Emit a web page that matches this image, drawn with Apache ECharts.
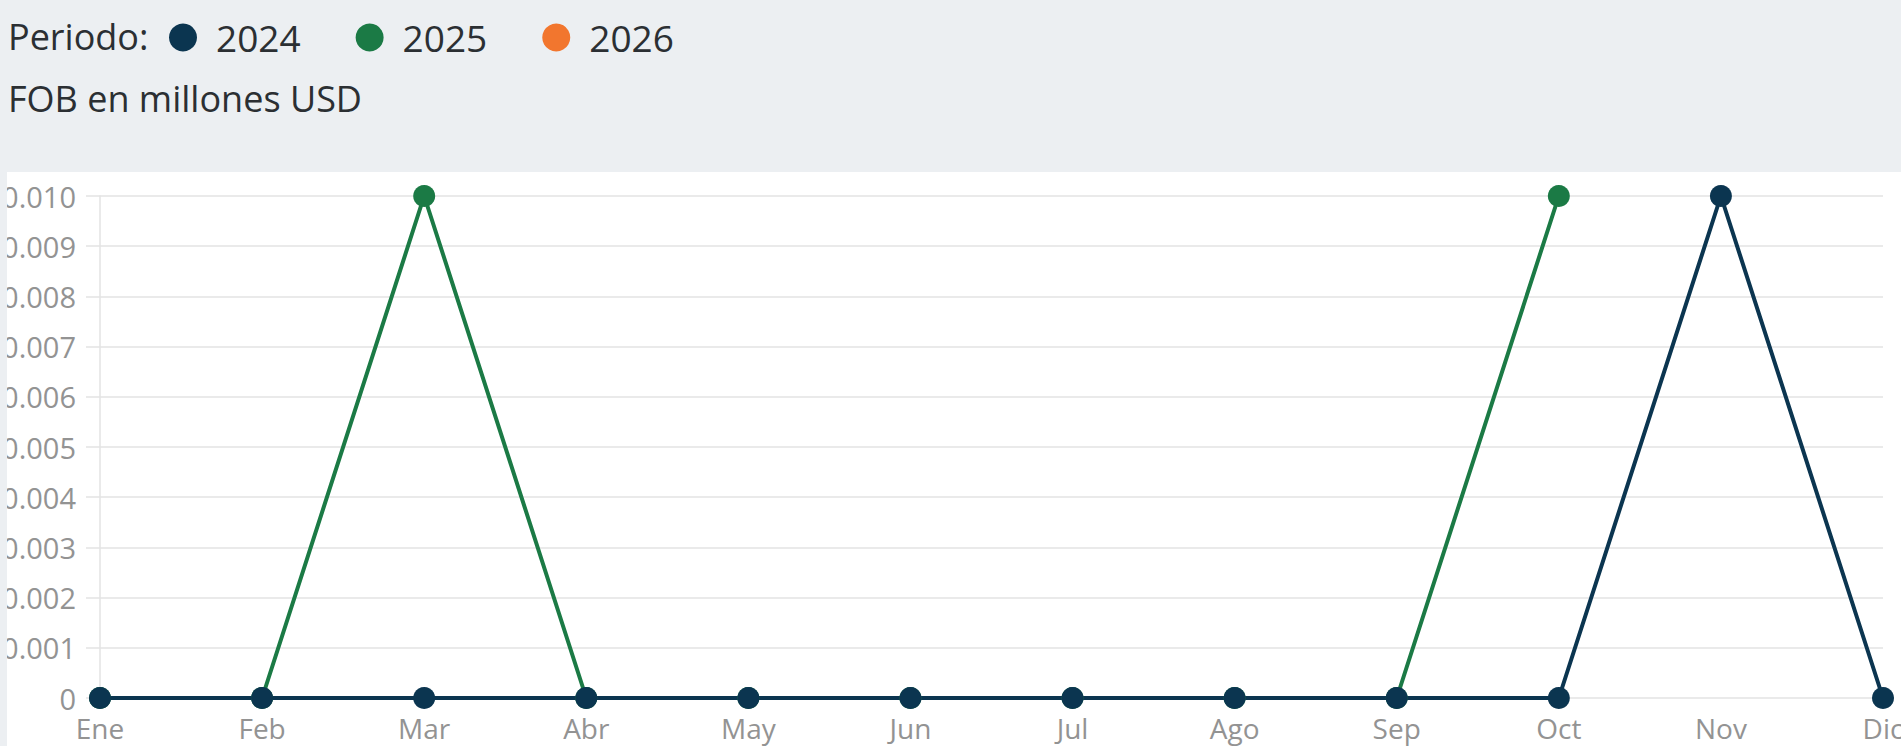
<!DOCTYPE html>
<html>
<head>
<meta charset="utf-8">
<script src="https://cdn.jsdelivr.net/npm/echarts@6/dist/echarts.min.js"></script>
<style>
html, body { margin: 0; padding: 0; width: 1901px; height: 746px; overflow: hidden; background: #eceff2; }
#wrap { position: absolute; left: 7px; top: 0; width: 1894px; height: 746px; overflow: hidden; }
#chart { position: absolute; left: -7px; top: 0; width: 1901px; height: 746px; }
</style>
</head>
<body>
<div id="wrap"><div id="chart"></div></div>
<script>
// meses
var meses = ['Ene','Feb','Mar','Abr','May','Jun','Jul','Ago','Sep','Oct','Nov','Dic'];

// FOB en millones USD
var datos2024 = [0, 0, 0, 0, 0, 0, 0, 0, 0, 0, 0.01, 0];
var datos2025 = [0, 0, 0.01, 0, 0, 0, 0, 0, 0, 0.01, null, null];
var datos2026 = [null, null, null, null, null, null, null, null, null, null, null, null];

var yTickLabels = ['0','0.001','0.002','0.003','0.004','0.005','0.006','0.007','0.008','0.009','0.010'];

var fuente = '"Open Sans", "Noto Sans", sans-serif';

var myChart = echarts.init(document.getElementById('chart'), null, { renderer: 'svg' });

var option = {
    backgroundColor: 'transparent',
    animation: false,
    graphic: [
        {
            type: 'rect',
            z: -10,
            silent: true,
            shape: { x: 7, y: 172, width: 1894, height: 574 },
            style: { fill: '#ffffff' }
        }
    ],
    title: [
        {
            text: 'Periodo:',
            left: 3,
            top: 9,
            textStyle: { fontFamily: fuente, fontSize: 36, fontWeight: 'normal', color: '#2b2f33', lineHeight: 44 }
        },
        {
            text: 'FOB en millones USD',
            left: 3,
            top: 71,
            textStyle: { fontFamily: fuente, fontSize: 36, fontWeight: 'normal', color: '#2b2f33', lineHeight: 44 }
        }
    ],
    legend: {
        data: ['2024', '2025', '2026'],
        left: 169,
        top: 19,
        padding: 0,
        icon: 'circle',
        itemWidth: 28,
        itemHeight: 28,
        itemGap: 55,
        selectedMode: false,
        textStyle: {
            fontFamily: fuente,
            fontSize: 37,
            color: '#2b2f33',
            lineHeight: 28,
            padding: [0, 0, 0, 14]
        }
    },
    grid: {
        left: 100,
        right: 18,
        top: 196,
        bottom: 48,
        outerBoundsMode: 'none'
    },
    xAxis: {
        type: 'category',
        boundaryGap: false,
        data: meses,
        axisLine: { show: false },
        axisTick: { show: false },
        splitLine: { show: false },
        axisLabel: {
            interval: 0,
            margin: 16,
            fontFamily: fuente,
            fontSize: 28,
            color: '#939393'
        }
    },
    yAxis: {
        type: 'value',
        min: 0,
        max: 0.01,
        interval: 0.001,
        axisLine: { show: true, lineStyle: { color: '#e3e3e3', width: 1.5 } },
        axisTick: { show: true, length: 14, lineStyle: { color: '#e3e3e3', width: 1.5 } },
        splitLine: { show: true, lineStyle: { color: '#e3e3e3', width: 1.5 } },
        axisLabel: {
            margin: 24,
            fontFamily: fuente,
            fontSize: 29,
            color: '#939393',
            formatter: function (v) {
                return yTickLabels[Math.round(v / 0.001)];
            }
        }
    },
    series: [
        {
            name: '2026',
            type: 'line',
            data: datos2026,
            symbol: 'circle',
            symbolSize: 22,
            lineStyle: { width: 4, color: '#f2762e' },
            itemStyle: { color: '#f2762e' }
        },
        {
            name: '2025',
            type: 'line',
            data: datos2025,
            symbol: 'circle',
            symbolSize: 22,
            showAllSymbol: true,
            lineStyle: { width: 4, color: '#1b7a45' },
            itemStyle: { color: '#1b7a45' }
        },
        {
            name: '2024',
            type: 'line',
            data: datos2024,
            symbol: 'circle',
            symbolSize: 22,
            showAllSymbol: true,
            lineStyle: { width: 4, color: '#0b3550' },
            itemStyle: { color: '#0b3550' }
        }
    ]
};

myChart.setOption(option);
</script>
</body>
</html>
